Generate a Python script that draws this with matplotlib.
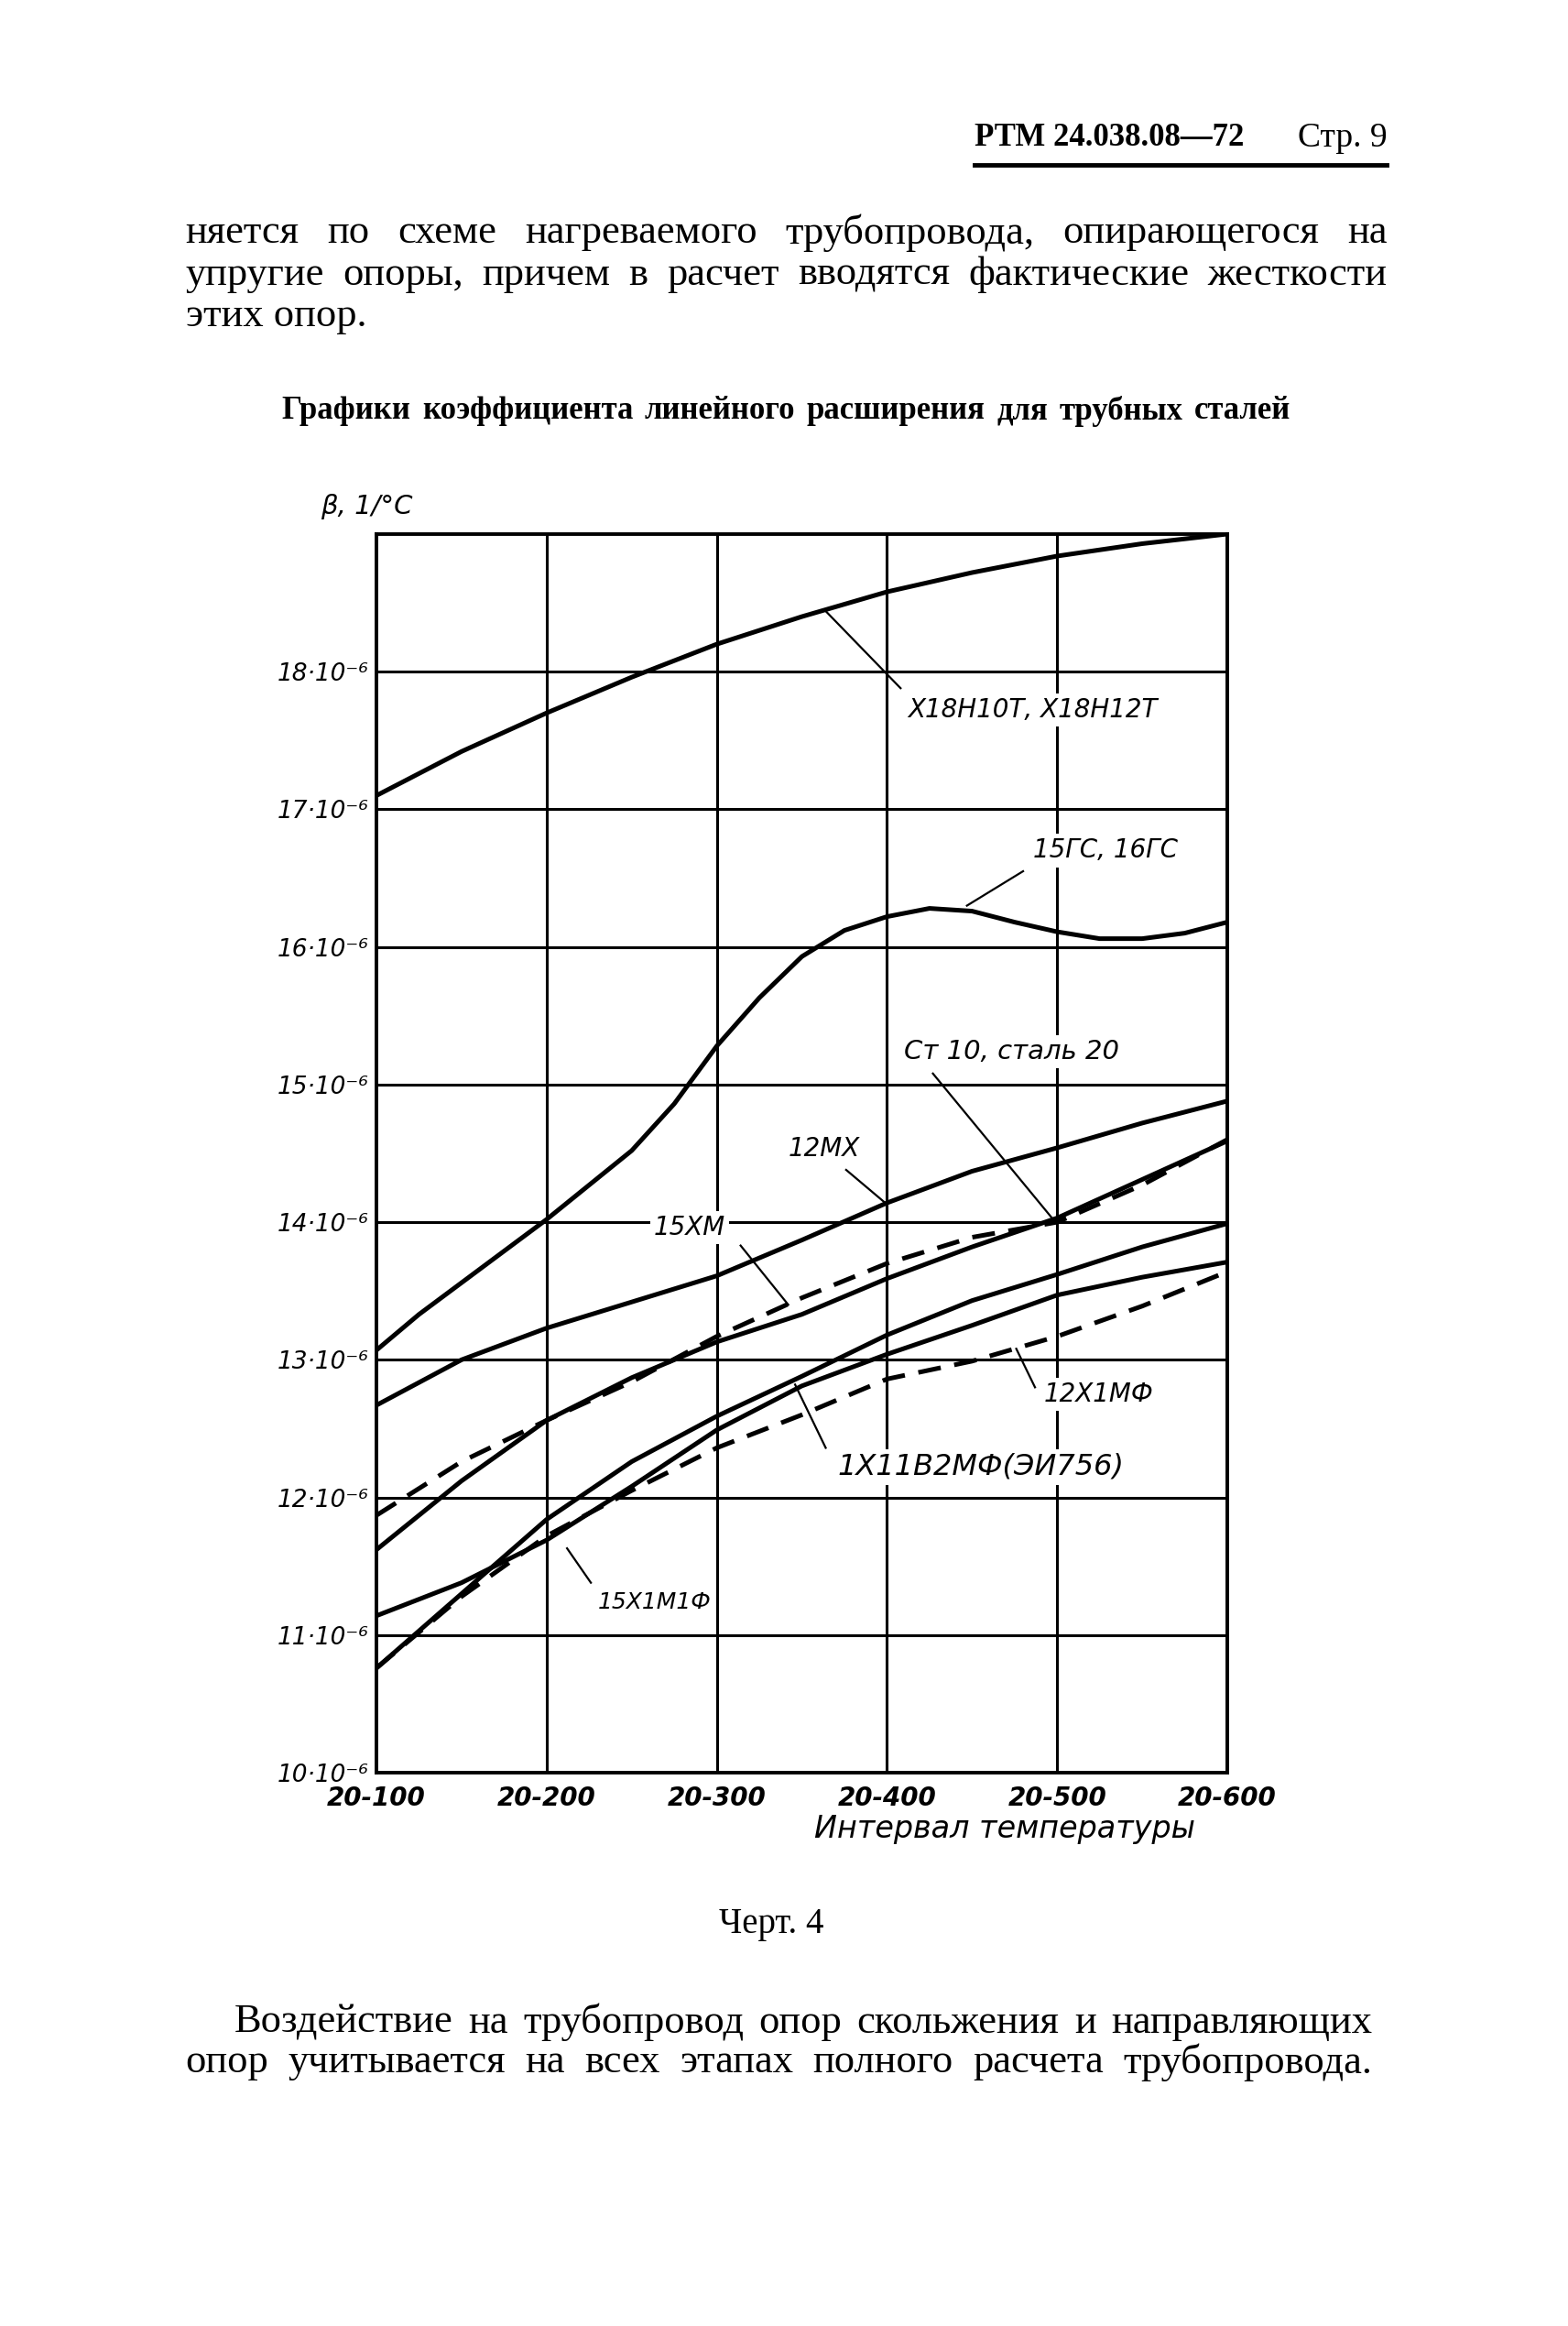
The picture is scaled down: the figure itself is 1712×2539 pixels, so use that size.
import matplotlib.pyplot as plt

# Значения, в единицах 10^-6 1/°C
intervals = ['20-100', '20-200', '20-300', '20-400', '20-500', '20-600']
y_ticks = [10, 11, 12, 13, 14, 15, 16, 17, 18]

x_half = [0, 0.5, 1, 1.5, 2, 2.5, 3, 3.5, 4, 4.5, 5]
x_quarter = [0, 0.25, 0.5, 0.75, 1, 1.25, 1.5, 1.75, 2, 2.25, 2.5,
             2.75, 3, 3.25, 3.5, 3.75, 4, 4.25, 4.5, 4.75, 5]

x18n10t = [17.1, 17.42, 17.7, 17.96, 18.2, 18.4, 18.58, 18.72, 18.84, 18.93, 19.0]
gs15 = [13.07, 13.33, 13.56, 13.79, 14.02, 14.27, 14.52, 14.86, 15.28, 15.63, 15.93,
        16.12, 16.22, 16.28, 16.26, 16.18, 16.11, 16.06, 16.06, 16.1, 16.18]
mx12 = [12.67, 13.0, 13.23, 13.42, 13.61, 13.87, 14.14, 14.37, 14.54, 14.72, 14.88]
st10 = [11.62, 12.12, 12.56, 12.87, 13.13, 13.33, 13.59, 13.82, 14.03, 14.31, 14.59]
xm15 = [11.87, 12.26, 12.56, 12.84, 13.17, 13.45, 13.7, 13.89, 14.0, 14.27, 14.6]
x11v2mf = [10.76, 11.3, 11.84, 12.26, 12.59, 12.88, 13.18, 13.43, 13.62, 13.82, 13.99]
x1m1f15 = [11.14, 11.38, 11.69, 12.08, 12.49, 12.81, 13.04, 13.25, 13.47, 13.6, 13.71]
x1mf12 = [10.76, 11.28, 11.72, 12.05, 12.36, 12.6, 12.86, 12.99, 13.17, 13.39, 13.64]

# подписи кривых: текст, (x, y) текста, размер, выноска
labels = [
    ('Х18Н10Т, Х18Н12Т', 3.12, 17.72, 20, (2.64, 18.44), (3.08, 17.88)),
    ('15ГС, 16ГС', 3.86, 16.70, 20, (3.47, 16.30), (3.80, 16.55)),
    ('Ст 10, сталь 20', 3.10, 15.24, 21, (3.97, 14.03), (3.27, 15.08)),
    ('12МХ', 2.42, 14.53, 20, (2.99, 14.14), (2.76, 14.38)),
    ('15ХМ', 1.63, 13.96, 20, (2.42, 13.40), (2.14, 13.83)),
    ('12Х1МФ', 3.92, 12.75, 20, (3.76, 13.08), (3.87, 12.80)),
    ('1Х11В2МФ(ЭИ756)', 2.71, 12.22, 23, (2.46, 12.82), (2.64, 12.36)),
    ('15Х1М1Ф', 1.30, 11.24, 18, (1.12, 11.63), (1.26, 11.38)),
]

page_font = ['Liberation Serif', 'DejaVu Serif']

fig = plt.figure(figsize=(17.12, 25.39), dpi=100)
fig.patch.set_facecolor('white')


def justify(line, y, x0, x1, **kw):
    # раскладываем слова по ширине строки, как в наборе
    words = line.split()
    texts = [fig.text(x0, y, w, va='center', ha='left', **kw) for w in words]
    r = fig.canvas.get_renderer()
    widths = [t.get_window_extent(r).width / fig.bbox.width for t in texts]
    gap = (x1 - x0 - sum(widths)) / max(len(words) - 1, 1)
    x = x0
    for t, w in zip(texts, widths):
        t.set_x(x)
        x += w + gap


# --- текст страницы ---
fig.text(0.6216, 0.9407, 'РТМ 24.038.08—72', fontsize=25, weight='bold',
         family=page_font, va='center', ha='left')
fig.text(0.8846, 0.9407, 'Стр. 9', fontsize=27, family=page_font, va='center', ha='right')
fig.add_artist(plt.Line2D([0.6216, 0.8846], [0.9292, 0.9292], color='black', lw=3.5))

justify('няется по схеме нагреваемого трубопровода, опирающегося на',
        0.8998, 0.1183, 0.8846, fontsize=32, family=page_font)
justify('упругие опоры, причем в расчет вводятся фактические жесткости',
        0.8820, 0.1183, 0.8846, fontsize=32, family=page_font)
fig.text(0.1183, 0.8641, 'этих опор.', fontsize=32, family=page_font, va='center')

justify('Графики коэффициента линейного расширения для трубных сталей',
        0.8233, 0.1798, 0.8231, fontsize=25, weight='bold', family=page_font)

fig.text(0.641, 0.2135, 'Интервал температуры', fontsize=24, style='italic',
         ha='center', va='center')
fig.text(0.492, 0.1726, 'Черт. 4', fontsize=28, family=page_font, ha='center', va='center')

justify('Воздействие на трубопровод опор скольжения и направляющих',
        0.1305, 0.1495, 0.8751, fontsize=32, family=page_font)
justify('опор учитывается на всех этапах полного расчета трубопровода.',
        0.1133, 0.1183, 0.8751, fontsize=32, family=page_font)

# --- график ---
ax = fig.add_axes([0.2401, 0.2379, 0.5426, 0.5325])
ax.set_xlim(0, 5)
ax.set_ylim(10, 19)

for x in range(1, 5):
    ax.axvline(x, color='black', lw=2.2, zorder=1)
for v in range(11, 19):
    ax.axhline(v, color='black', lw=2.2, zorder=1)
for s in ax.spines.values():
    s.set_linewidth(2.8)

solid = dict(color='black', lw=3.6, zorder=3)
dashed = dict(color='black', lw=3.6, zorder=3, dashes=(5, 3))

ax.plot(x_half, x18n10t, **solid)
ax.plot(x_quarter, gs15, **solid)
ax.plot(x_half, mx12, **solid)
ax.plot(x_half, st10, **solid)
ax.plot(x_half, xm15, **dashed)
ax.plot(x_half, x11v2mf, **solid)
ax.plot(x_half, x1m1f15, **solid)
ax.plot(x_half, x1mf12, **dashed)

for text, tx, ty, fs, p0, p1 in labels:
    ax.text(tx, ty, text, fontsize=fs, style='italic', ha='left', va='center', zorder=5,
            bbox=dict(facecolor='white', edgecolor='none', pad=3))
    ax.plot([p0[0], p1[0]], [p0[1], p1[1]], color='black', lw=1.6, zorder=4)

ax.set_xticks(range(len(intervals)))
ax.set_xticklabels(intervals, fontsize=20, style='italic', weight='bold')
ax.set_yticks(y_ticks)
ax.set_yticklabels([f'{v}·10⁻⁶' for v in y_ticks], fontsize=19, style='italic')
ax.tick_params(length=0)
ax.tick_params(axis='x', pad=10)
ax.tick_params(axis='y', pad=6)

ax.text(-0.066, 1.012, 'β, 1/°C', transform=ax.transAxes, fontsize=21,
        style='italic', ha='left', va='bottom')

plt.savefig('out.png', dpi=100, facecolor='white')
